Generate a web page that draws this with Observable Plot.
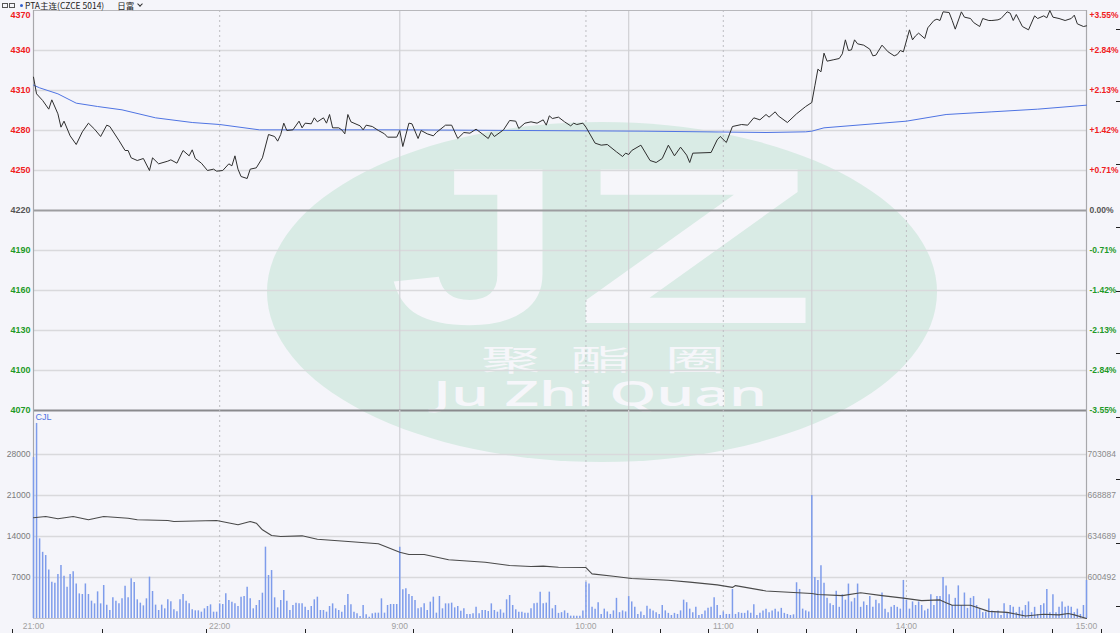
<!DOCTYPE html>
<html><head><meta charset="utf-8">
<script src="https://cdn.jsdelivr.net/npm/d3@7"></script>
<script src="https://cdn.jsdelivr.net/npm/@observablehq/plot@0.6"></script>
<style>
html,body{margin:0;padding:0;background:#f5f5fa;}
#wrap{position:relative;width:1120px;height:633px;overflow:hidden;background:#f5f5fa;}
#wm,#price,#vol,#hdr{position:absolute;left:0;}
#wm{top:0;z-index:0}
#wmt{position:absolute;left:0;top:0;width:1120px;height:633px;z-index:0;}
#wmt div{position:absolute;white-space:nowrap;color:#f6f6fa;transform-origin:0 0;}
#price{top:0;z-index:1}
#vol{top:404px;z-index:2}
#hdr{left:2px;top:0;height:10px;z-index:3;font:8.5px "Noto Sans CJK SC",sans-serif;line-height:10px;color:#222;white-space:nowrap;display:flex;align-items:center;}
.box{display:inline-block;width:4px;height:3px;border:1px solid #555;margin-right:1px;}
.dot{display:inline-block;width:3px;height:3px;border-radius:50%;background:#2f5fd0;margin:0 2px 0 4px;}
.t2{margin-left:13px;}
.chev{display:inline-block;width:3px;height:3px;border-right:1px solid #333;border-bottom:1px solid #333;transform:rotate(45deg);margin-left:4px;margin-top:-3px;}
.rm{position:absolute;background:#222;z-index:4;}
</style></head>
<body>
<div id="wrap">
<svg id="wm" width="1120" height="633">
  <ellipse cx="602" cy="292" rx="335" ry="170" fill="#d9ebe5"/>
</svg>
<div id="wmt">
  <div data-w="175" style="left:389px;top:163px;font:bold 223px 'Liberation Sans',Arial,sans-serif;line-height:165px;">J</div>
  <div data-w="243" style="left:574px;top:163px;font:bold 223px 'Liberation Sans',Arial,sans-serif;line-height:165px;">Z</div>
  <div data-w="60" style="left:481px;top:344px;font:29px 'Noto Sans CJK SC',sans-serif;line-height:29px;">聚</div>
  <div data-w="60" style="left:571px;top:344px;font:29px 'Noto Sans CJK SC',sans-serif;line-height:29px;">酯</div>
  <div data-w="60" style="left:665px;top:344px;font:29px 'Noto Sans CJK SC',sans-serif;line-height:29px;">圈</div>
  <div data-w="334" style="left:433px;top:380px;font:600 35px 'Open Sans',sans-serif;line-height:26px;">Ju Zhi Quan</div>
</div>
<div id="hdr"><span class="box"></span><span class="box"></span><span class="dot"></span><span>PTA主连(CZCE 5014)</span><span class="t2">日富</span><span class="chev"></span></div>
</div>
<script>
// ---- data ----
const priceMinutes = [0,1,3,5,6,8,9,10,12,14,16,18,20,22,24,25,28,30,31,32,34,36,38,39,41,44,45,47,49,51,52,53,55,57,59,60,62,64,65,66,67,68,70,71,73,75,77,79,80,81,82,83,85,87,88,89,91,92,93,95,96,97,98,100,101,102,103,104,107,108,109,111,113,115,116,119,120,
121,123,124,126,127,129,131,132,135,137,139,141,143,145,147,149,150,151,154,156,158,159,161,163,165,167,168,169,170,172,174,176,177,178,180,181,184,186,188,191,193,194,195,196,199,202,204,206,208,210,212,214,215,216,222,224,225,227,229,232,234,236,238,240,241,243,244,247,250,253,255,
256,257,258,259,260,262,264,265,266,267,268,269,270,272,274,275,276,278,280,282,283,284,285,287,288,289,290,292,293,295,296,297,298,300,301,302,304,305,307,308,310,311,313,314,316,317,319,320,321,322,323,324,326,328,329,331,332,333,334,336,338,340,341,342,344,345];
const priceValues = [4320,4307.5,4302.5,4296,4303,4292.5,4282.5,4287,4276,4269.5,4279,4285.5,4281,4275.5,4284,4283,4272.5,4265,4265,4259.5,4257.5,4259,4250,4259.5,4255,4257,4258,4255.5,4265,4261,4265.5,4259,4255.5,4250,4251,4249.5,4250,4255,4253.5,4261,4251,4245.5,4244,4251,4252,4259.5,4277,4275.5,4272,4277,4285.5,4280,4280.5,4287,4282,4285.5,4285,4289.5,4286.5,4289.5,4285.5,4292,4282,4282,4280.5,4277.5,4292,4286.5,4283.5,4280.5,4284,4283,4280,4277.5,4275,4275,4280,
4268,4285.5,4285,4274,4280,4277.5,4276,4278.5,4284,4284,4274,4278.5,4278,4281,4277.5,4274,4278.5,4275.5,4280.5,4287.5,4287,4281.5,4285.5,4286.5,4285.5,4288,4284,4291,4289,4290,4286.5,4283.5,4285.5,4284.5,4285.5,4282.5,4270.5,4269,4269.5,4264,4260.5,4263,4262,4265,4269,4257.5,4256,4259,4269,4261,4267.5,4261.5,4256,4263,4263.5,4273,4275.5,4271,4283,4284.5,4284,4289.5,4288,4292,4290,4294,4291,4286,4292.5,4298,4301,
4313.5,4326,4324,4338,4332,4333,4334,4337.5,4348,4340,4340.5,4348,4345,4344,4341,4336,4336.5,4344,4339,4336,4337,4340,4339,4355.5,4348,4351,4353,4349,4357,4362.5,4363.5,4362.5,4369,4368.5,4362.5,4356,4369,4365,4364,4361,4358,4364,4362.5,4362.5,4363,4364,4369,4368,4362.5,4367,4362.5,4358,4355.5,4366,4364,4366,4364.5,4370,4365,4364,4362.5,4364,4366.5,4360,4358,4358.5];
const avgMinutes = [0,2,8,14,21,29,40,52,61,74,120,200,240,253,255,259,286,299,314,329,345];
const avgValues = [4314,4312,4307.5,4300.5,4298,4295.5,4289.5,4286,4284.5,4280.5,4280.5,4279.5,4278.5,4279,4279.5,4282,4287,4292,4294,4296,4299];
const volume = [
27500,33300,13600,11300,10750,8300,6200,6000,7500,9050,
7200,5350,7500,7970,5900,4200,4100,5900,4100,2960,
2500,4550,2500,5630,2280,1370,3530,2960,2500,3360,
5520,3530,6770,6150,3190,2620,2160,3360,7060,4610,
2280,1370,2280,1650,3190,2850,1480,1140,3190,4100,
2960,2500,1480,1310,1310,1080,1650,2050,2330,1080,
1080,2500,2390,4210,3070,2790,2500,2050,3640,3760,
5350,3360,1650,2220,3070,4320,12180,7340,8190,3530,
1820,3070,4780,2960,1370,2220,2620,2500,2500,1930,
1370,2050,3190,3640,1370,1370,1080,2050,2500,1650,
1370,1080,2220,4100,2330,1080,800,340,2220,630,
230,800,910,910,3360,910,2220,2390,2390,2390,
12180,4890,5060,4100,3760,3070,1650,1820,2500,1370,
2790,3640,910,3760,1650,2500,2500,2620,1820,2050,
1250,1650,680,680,800,1930,800,1370,1370,1190,
2500,1370,1080,1480,910,3190,3930,2220,1480,1080,
1080,910,910,1650,2500,2620,4500,2500,2620,4500,
1650,2220,
875,1000,1300,875,400,400,400,400,1300,6180,5880,1900,1600,2700,690,1600,1120,690,1300,3440,1000,1300,1120,3740,
2830,1910,690,1120,510,2100,1600,1300,1000,690,
2220,1300,875,510,875,690,1300,3130,2700,1600,
1000,1910,510,690,1300,1730,1910,3560,2220,510,
1120,690,690,4960,690,1000,875,875,1300,875,
2340,510,875,1300,1600,1000,1300,1600,1120,1730,
875,690,510,630,6100,4960,1600,1300,1120,
21000,7000,6500,9000,6000,3440,2520,2220,4660,1910,4050,3130,5880,2830,3440,5880,1910,2830,2220,3740,1910,3130,2520,4350,1600,1000,1910,2220,1910,1600,6500,
3130,1600,2830,2220,2830,2220,1300,1600,4050,2220,3740,3740,7000,
5570,4050,2220,3440,5570,2220,4350,1730,3440,3740,2220,1600,1000,1120,3320,1300,1000,1300,510,2520,875,2220,1910,1000,1910,1300,2220,2830,1000,1910,690,2220,2520,4960,1000,4050,1000,1910,2830,1910,2100,1910,1000,1600,690,2220,6500];
const oiMinutes = [0,4,8,13,18,23,31,34,44,46,60,67,71,73,75,78,81,88,93,102,113,120,123,128,136,148,156,163,167,172,181,183,190,196,208,215,224,229,230,240,255,257,265,271,278,285,291,297,299,301,307,313,319,325,331,336,339,341,345];
const oiValues = [650280,651360,649440,651360,648600,651360,649960,648600,648030,647200,648030,644450,647200,645780,640270,635520,634690,635250,632430,630760,628590,621600,619670,619670,615250,613250,610500,609660,609940,609080,608800,603500,601500,599650,598160,596660,594320,592230,593740,589230,587150,586310,585400,587730,585400,583310,581230,581810,579390,577310,577310,572220,571390,568380,569880,569300,570470,569300,566300];
const priceTicks = [4070,4100,4130,4160,4190,4220,4250,4280,4310,4340,4370];
const prevClose = 4220;
const volTicks = [7000,14000,21000,28000];
const oiTickLabels = ["600492","634689","668887","703084"];
const timeTickMinutes = [0,61,120,181,226,286,345];
const timeTickLabels = ["21:00","22:00","9:00","10:00","11:00","14:00","15:00"];
const sessionBreaks = [120,195,255];
const hourLines = [61,181,226,286];

// ---- derived ----
const priceData = priceMinutes.map((m,i)=>({m, v:priceValues[i]}));
const avgData = avgMinutes.map((m,i)=>({m, v:avgValues[i]}));
const volData = volume.map((v,i)=>({i, v}));
const oiLo = +oiTickLabels[0], oiHi = +oiTickLabels[oiTickLabels.length-1];
const oiToVol = oi => volTicks[0] + (oi - oiLo)/(oiHi - oiLo)*(volTicks[volTicks.length-1]-volTicks[0]);
const oiData = oiMinutes.map((m,i)=>({m, v:oiToVol(oiValues[i])}));
const xDomain = [timeTickMinutes[0], timeTickMinutes[timeTickMinutes.length-1]];
const pMin = priceTicks[0], pMax = priceTicks[priceTicks.length-1];
const colorOf = p => p > prevClose ? "#f0201e" : (p < prevClose ? "#1f9a28" : "#555");
const pct = p => { const r = (p - prevClose)/prevClose*100; return (r>0?"+":"") + r.toFixed(2) + "%"; };
const FONT = "Liberation Sans, Arial, sans-serif";
const GRID = "#d9d9dc";

const priceChart = Plot.plot({
  width: 1120, height: 420, marginTop: 10, marginBottom: 10, marginLeft: 33, marginRight: 34,
  style: {background: "transparent", overflow: "visible", fontFamily: FONT},
  x: {domain: xDomain, axis: null},
  y: {domain: [pMin, pMax], axis: null},
  marks: [
    Plot.ruleY(priceTicks.filter(p => p !== prevClose && p !== pMin && p !== pMax), {stroke: GRID, strokeWidth: 1.5}),
    Plot.ruleX(sessionBreaks, {stroke: "#d0d0d4", strokeWidth: 1.2}),
    Plot.ruleX(hourLines, {stroke: "#bdbdc2", strokeDasharray: "2,3"}),
    Plot.ruleY([prevClose], {stroke: "#9d9da0", strokeWidth: 1.8}),
    Plot.ruleY([pMin], {stroke: "#8a8a8d", strokeWidth: 1.8}),
    Plot.ruleY([pMax], {stroke: "#b8b8bc", strokeWidth: 1.2}),
    Plot.ruleX(xDomain, {stroke: "#a8a8ac", strokeWidth: 1.2}),
    Plot.line(avgData, {x: "m", y: "v", stroke: "#4f74e3", strokeWidth: 1}),
    Plot.line(priceData, {x: "m", y: "v", stroke: "#2e2e2e", strokeWidth: 1}),
    Plot.text(priceTicks.filter(p => p !== pMax), {y: d => d, text: d => String(d), frameAnchor: "left", textAnchor: "end", dx: -3, fill: colorOf, fontSize: 9, fontWeight: "bold"}),
    Plot.text([pMax], {y: d => d, text: d => String(d), frameAnchor: "left", textAnchor: "end", dx: -3, dy: 5, fill: colorOf, fontSize: 9, fontWeight: "bold"}),
    Plot.text(priceTicks.filter(p => p !== pMax), {y: d => d, text: pct, frameAnchor: "right", textAnchor: "start", dx: 3, fill: colorOf, fontSize: 8.5, fontWeight: "bold"}),
    Plot.text([pMax], {y: d => d, text: pct, frameAnchor: "right", textAnchor: "start", dx: 3, dy: 5, fill: colorOf, fontSize: 8.5, fontWeight: "bold"})
  ]
});
priceChart.id = "price";

const volTop = 35512;
const volChart = Plot.plot({
  width: 1120, height: 229, marginTop: 6, marginBottom: 15, marginLeft: 33, marginRight: 34,
  style: {background: "transparent", overflow: "visible", fontFamily: FONT},
  x: {domain: xDomain, axis: null},
  y: {domain: [0, volTop], axis: null},
  marks: [
    Plot.ruleY(volTicks, {stroke: GRID, strokeWidth: 1.5}),
    Plot.ruleX(sessionBreaks, {stroke: "#d0d0d4", strokeWidth: 1.2}),
    Plot.ruleX(hourLines, {stroke: "#bdbdc2", strokeDasharray: "2,3"}),
    Plot.ruleX(xDomain, {stroke: "#a8a8ac", strokeWidth: 1.2}),
    Plot.ruleX(volData, {x: "i", y1: 0, y2: "v", stroke: "#7e9ceb", strokeWidth: 1.5}),
    Plot.ruleY([0], {stroke: "#c4c4c8", strokeWidth: 1}),
    Plot.line(oiData, {x: "m", y: "v", stroke: "#4a4a4a", strokeWidth: 1.1}),
    Plot.text(volTicks, {y: d => d, text: d => String(d), frameAnchor: "left", textAnchor: "end", dx: -3, fill: "#7a7a7a", fontSize: 8.5}),
    Plot.text(volTicks, {y: d => d, text: (d, i) => oiTickLabels[i], frameAnchor: "right", textAnchor: "start", dx: 1, fill: "#8a8a8a", fontSize: 8.5}),
    Plot.text(timeTickMinutes, {x: d => d, text: (d, i) => timeTickLabels[i], frameAnchor: "bottom", dy: 10, fill: "#a0a0a0", fontSize: 8.5}),
    Plot.text(["CJL"], {frameAnchor: "top-left", textAnchor: "start", lineAnchor: "top", dx: 2, dy: 3, fill: "#4f74e3", fontSize: 9})
  ]
});
volChart.id = "vol";

const wrap = document.getElementById("wrap");
wrap.appendChild(priceChart);
wrap.appendChild(volChart);

// stretch the watermark words horizontally to their widths in the picture
document.querySelectorAll("#wmt div").forEach(el => {
  const w = el.getBoundingClientRect().width || 1;
  el.style.transform = `scaleX(${(+el.dataset.w) / w})`;
});

// small screen-ruler marks seen along the right and bottom edges of the picture
[29,101,164,227,291,353,417,479,543,606].forEach(y => {
  const d = document.createElement("div"); d.className = "rm";
  d.style.cssText = `left:1116px;top:${y}px;width:4px;height:1px;`; wrap.appendChild(d);
});
[12,102,206,305,413,512,612,660,708,757,806,856,905,953,1003,1052,1101].forEach(x => {
  const d = document.createElement("div"); d.className = "rm";
  d.style.cssText = `left:${x}px;top:629px;width:1px;height:4px;`; wrap.appendChild(d);
});
</script>
</body></html>
